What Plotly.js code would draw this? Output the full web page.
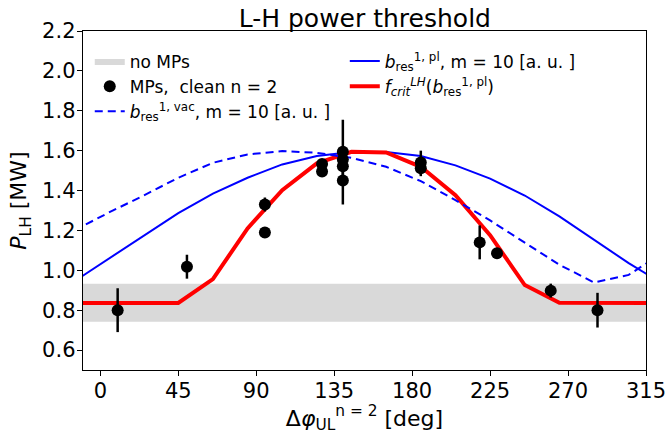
<!DOCTYPE html>
<html>
<head>
<meta charset="utf-8">
<script src="https://cdn.plot.ly/plotly-3.0.1.min.js"></script>
<style>html,body{margin:0;padding:0;background:#fff;}#chart{width:667px;height:438px;}</style>
</head>
<body>
<div id="chart"></div>
<script>
// Phase grid of the model curves (deg)
const phaseGrid = [-15, 5, 25, 45, 65, 85, 105, 125, 145, 165, 185, 205, 225, 245, 265, 285, 305, 325];
// b_res^{1,pl}, m=10 [a.u.] (scaled to MW axis)
const bPl   = [0.945, 1.060, 1.175, 1.287, 1.385, 1.464, 1.531, 1.573, 1.593, 1.593, 1.573, 1.526, 1.460, 1.375, 1.270, 1.153, 1.036, 0.930];
// b_res^{1,vac}, m=10 [a.u.]
const bVac  = [1.200, 1.290, 1.375, 1.464, 1.539, 1.581, 1.598, 1.589, 1.564, 1.519, 1.447, 1.352, 1.250, 1.137, 1.028, 0.939, 0.977, 1.090];
// f_crit^LH(b_res^{1,pl})
const fCrit = [0.836, 0.836, 0.836, 0.836, 0.956, 1.210, 1.402, 1.536, 1.594, 1.591, 1.519, 1.377, 1.176, 0.926, 0.837, 0.836, 0.836, 0.836];

// Measured points: MPs, clean n=2
const mpPhase = [10, 50, 95, 95, 128, 128, 140, 140, 140, 140, 185, 185, 219, 229, 260, 287];
const mpPower = [0.80, 1.018, 1.330, 1.190, 1.533, 1.496, 1.595, 1.555, 1.522, 1.450, 1.540, 1.512, 1.140, 1.086, 0.898, 0.800];
const mpErr   = [0.11, 0.06, 0.035, 0.015, 0.025, 0.015, 0.16, 0.03, 0.03, 0.12, 0.06, 0.04, 0.085, 0.025, 0.035, 0.087];

// "no MPs" band
const noMpLow = 0.742;
const noMpHigh = 0.932;
const bandPhase = [-20, 340];

const font = 'DejaVu Sans, sans-serif';

const traces = [
  {
    x: [bandPhase[0], bandPhase[1], bandPhase[1], bandPhase[0], bandPhase[0]],
    y: [noMpLow, noMpLow, noMpHigh, noMpHigh, noMpLow],
    type: 'scatter', mode: 'lines', fill: 'toself',
    fillcolor: '#d9d9d9', line: {width: 0, color: '#d9d9d9'},
    name: 'no MPs', legend: 'legend', legendrank: 1, hoverinfo: 'skip'
  },
  {
    x: phaseGrid, y: bPl, type: 'scatter', mode: 'lines',
    line: {color: '#0000ff', width: 2},
    name: '<i>b</i><sub>res</sub><sup>1, pl</sup>, m = 10 [a. u. ]', legend: 'legend2', legendrank: 1
  },
  {
    x: phaseGrid, y: fCrit, type: 'scatter', mode: 'lines',
    line: {color: '#ff0000', width: 4},
    name: '<i>f</i><sub><i>crit</i></sub><sup><i>LH</i></sup>(<i>b</i><sub>res</sub><sup>1, pl</sup>)', legend: 'legend2', legendrank: 2
  },
  {
    x: phaseGrid, y: bVac, type: 'scatter', mode: 'lines',
    line: {color: '#0000ff', width: 2, dash: '8px,5px'},
    name: '<i>b</i><sub>res</sub><sup>1, vac</sup>, m = 10 [a. u. ]', legend: 'legend', legendrank: 3
  },
  {
    x: mpPhase, y: mpPower, type: 'scatter', mode: 'markers',
    marker: {color: '#000000', size: 12},
    error_y: {type: 'data', array: mpErr, visible: true, color: '#000000', thickness: 2.5, width: 0},
    name: 'MPs,  clean n = 2', legend: 'legend', legendrank: 2
  }
];

const layout = {
  width: 667, height: 438,
  margin: {l: 83, r: 21, t: 31, b: 68, pad: 0},
  paper_bgcolor: '#ffffff', plot_bgcolor: '#ffffff',
  font: {family: font, color: '#000000', size: 19},
  title: {text: 'L-H power threshold', font: {family: font, size: 25, color: '#000'}, x: 0.547, xanchor: 'center', y: 0.958, yanchor: 'middle'},
  showlegend: true,
  xaxis: {
    range: [-10, 315], tickmode: 'array', tickvals: [0, 45, 90, 135, 180, 225, 270, 315],
    ticks: 'outside', ticklen: 5, tickwidth: 1, tickcolor: '#000',
    showline: true, linecolor: '#000', linewidth: 1.3, mirror: true,
    showgrid: false, zeroline: false, ticklabelstandoff: -4,
    tickfont: {family: font, size: 21},
    title: {text: 'Δ<i>φ</i><sub>UL</sub><sup>n = 2</sup> [deg]', font: {family: font, size: 22}, standoff: 3}
  },
  yaxis: {
    range: [0.5, 2.2], tickmode: 'array', tickvals: [0.6, 0.8, 1.0, 1.2, 1.4, 1.6, 1.8, 2.0, 2.2],
    ticktext: ['0.6', '0.8', '1.0', '1.2', '1.4', '1.6', '1.8', '2.0', '2.2'],
    ticks: 'outside', ticklen: 5, tickwidth: 1, tickcolor: '#000',
    showline: true, linecolor: '#000', linewidth: 1.3, mirror: true,
    showgrid: false, zeroline: false, ticklabelstandoff: -3,
    tickfont: {family: font, size: 21},
    title: {text: '<i>P</i><sub>LH</sub> [MW]', font: {family: font, size: 22}, standoff: 9}
  },
  legend: {
    x: 0.012, y: 0.963, xanchor: 'left', yanchor: 'top',
    bgcolor: 'rgba(255,255,255,0)', borderwidth: 0,
    font: {family: font, size: 17}, traceorder: 'normal', tracegroupgap: 0
  },
  legend2: {
    x: 0.465, y: 0.963, xanchor: 'left', yanchor: 'top',
    bgcolor: 'rgba(255,255,255,0)', borderwidth: 0,
    font: {family: font, size: 17}, traceorder: 'normal', tracegroupgap: 0
  }
};

Plotly.newPlot('chart', traces, layout, {displayModeBar: false, staticPlot: true});
</script>
</body>
</html>
